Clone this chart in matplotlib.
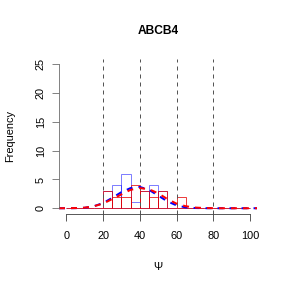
import matplotlib
matplotlib.use("Agg")
import matplotlib.pyplot as plt
import numpy as np

plt.rcParams['font.family'] = ['Liberation Sans', 'DejaVu Sans']

# histogram bins (width 5) and counts
breaks = [0, 5, 10, 15, 20, 25, 30, 35, 40, 45, 50, 55, 60, 65, 70, 75, 80, 85, 90, 95, 100]
blue_counts = [0, 0, 0, 0, 3, 4, 6, 1, 3, 4, 3, 0, 0, 0, 0, 0, 0, 0, 0, 0]
red_counts = [0, 0, 0, 0, 3, 2, 2, 4, 3, 2, 3, 0, 2, 0, 0, 0, 0, 0, 0, 0]

# fitted curves
curve_x = [-4, 0, 5, 10, 15, 20, 25, 30, 35, 40, 45, 50, 55, 60, 65, 70, 75, 80, 85, 90, 95, 100, 104]
blue_curve = [0, 0, 0.02, 0.08, 0.35, 0.9, 1.8, 2.8, 3.5, 3.7, 3.2, 2.2, 1.2, 0.5, 0.15, 0.04, 0.01, 0, 0, 0, 0, 0, 0]
red_curve = [0, 0.01, 0.03, 0.1, 0.35, 0.8, 1.6, 2.4, 3.2, 3.5, 3.3, 2.6, 1.6, 0.8, 0.35, 0.12, 0.04, 0.01, 0, 0, 0, 0, 0]

vlines = [20, 40, 60, 80]

fig = plt.figure(figsize=(4, 4), dpi=72)
ax = fig.add_axes([59/288, (288-214)/288, (257.3-59)/288, (214-58.5)/288])

left = np.array(breaks[:-1])
ax.bar(left, blue_counts, width=5, align='edge', fill=False,
       edgecolor=(0, 0, 1, 0.5), linewidth=1)
ax.bar(left, red_counts, width=5, align='edge', fill=False,
       edgecolor=(0.9, 0, 0, 0.75), linewidth=1)

for v in vlines:
    ax.axvline(v, color='#555555', linestyle=(0, (4, 4)), linewidth=1)

ax.plot(curve_x, blue_curve, color='blue', linewidth=2, dashes=(3, 3))
ax.plot(curve_x, red_curve, color='red', linewidth=2, dashes=(3, 3))

ax.set_xlim(-4, 104)
ax.set_ylim(-1, 26)
ax.set_xticks([0, 20, 40, 60, 80, 100])
ax.set_yticks([0, 5, 10, 15, 20, 25])
for s in ['top', 'right']:
    ax.spines[s].set_visible(False)
ax.spines['bottom'].set_bounds(0, 100)
ax.spines['left'].set_bounds(0, 25)
ax.spines['bottom'].set_color('#333333')
ax.spines['left'].set_color('#666666')
ax.tick_params(axis='x', length=7, pad=10, labelsize=11, color='#333333')
ax.tick_params(axis='y', length=7, pad=6, labelsize=11, color='#666666')
for lab in ax.get_yticklabels():
    lab.set_rotation(90)
    lab.set_va('center')

ax.set_title('ABCB4', fontsize=12, fontweight='bold', pad=24)
ax.set_xlabel('\u03a8', fontsize=11, labelpad=21)
ax.set_ylabel('Frequency', fontsize=11, labelpad=21)

fig.savefig('out.png', dpi=72)
